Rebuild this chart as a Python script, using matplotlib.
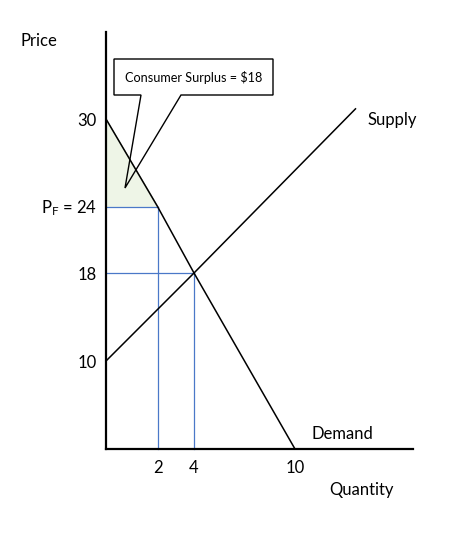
import numpy as np
import matplotlib
matplotlib.use("Agg")
import matplotlib.pyplot as plt
import matplotlib.transforms as mtransforms
from matplotlib.patches import Polygon

plt.rcParams['font.family'] = ['Lato', 'DejaVu Sans']

W, H = 450, 542

# data
demand_q = [0, 2, 4, 10]
demand_p = [30, 24, 18, 0]
supply_q = [0, 4, 13.6]
supply_p = [10, 18, 30.7]
floor_q, floor_p = 2, 24       # price floor point
eq_q, eq_p = 4, 18             # equilibrium
x_ticks = [2, 4, 10]
x_tick_labels = ['2', '4', '10']
y_ticks = [30, 24, 18, 10]
y_tick_labels = ['30', r'$\mathregular{P_F}$ = 24', '18', '10']
callout_text = 'Consumer Surplus = $18'

# the sketch is not drawn to scale: piecewise scales through the tick positions
q_knots = [-20, 0, 2, 4, 10, 40]
q_pix = [-408, 106, 157.5, 194, 295, 799]
p_knots = [-20, 0, 10, 18, 24, 30, 60]
p_pix = [625, 449, 361, 273, 206.5, 119, -316]
p_up = [H - v for v in p_pix]


def fx(v):
    return np.interp(v, q_knots, q_pix)


def ix(v):
    return np.interp(v, q_pix, q_knots)


def fy(v):
    return np.interp(v, p_knots, p_up)


def iy(v):
    return np.interp(v, p_up, p_knots)


fig = plt.figure(figsize=(W / 100, H / 100), dpi=100)
ax = fig.add_axes([0, 0, 1, 1])
ax.set_xscale('function', functions=(fx, ix))
ax.set_yscale('function', functions=(fy, iy))
ax.set_xlim(ix(0), ix(W))
ax.set_ylim(iy(0), iy(H))
ax.axis('off')

blue = '#4a78c8'
fs = 12

# consumer surplus area
ax.fill([0, 0, floor_q], [demand_p[0], floor_p, floor_p], facecolor='#eef5e7', zorder=1,
        edgecolor='#a9b4a0', linewidth=0.6)

# guide lines
ax.plot([0, floor_q], [floor_p, floor_p], color=blue, lw=0.9, zorder=2)
ax.plot([floor_q, floor_q], [0, floor_p], color=blue, lw=0.9, zorder=2)
ax.plot([0, eq_q], [eq_p, eq_p], color=blue, lw=0.9, zorder=2)
ax.plot([eq_q, eq_q], [0, eq_p], color=blue, lw=0.9, zorder=2)

# axes
ax.plot([0, 0], [0, 36], color='black', lw=1.6, zorder=3)
ax.plot([0, 17], [0, 0], color='black', lw=1.6, zorder=3)

# curves
ax.plot(demand_q, demand_p, color='black', lw=1.1, zorder=4)
ax.plot(supply_q, supply_p, color='black', lw=1.1, zorder=4)

# tick labels
for q, lab in zip(x_ticks, x_tick_labels):
    ax.annotate(lab, (q, 0), xytext=(0, -19), textcoords='offset pixels',
                ha='center', va='center', fontsize=fs)
for p, lab in zip(y_ticks, y_tick_labels):
    ax.annotate(lab, (0, p), xytext=(-9, -2), textcoords='offset pixels',
                ha='right', va='center', fontsize=fs)


def px(x, y):
    return x / W, 1 - y / H


fig.text(*px(21, 41), 'Price', ha='left', va='center', fontsize=fs)
fig.text(*px(361, 490), 'Quantity', ha='center', va='center', fontsize=fs)
fig.text(*px(342, 434), 'Demand', ha='center', va='center', fontsize=fs)
fig.text(*px(392, 120), 'Supply', ha='center', va='center', fontsize=fs)

# callout box with pointer (outline only, the shading shows through the wedge)
to_disp = mtransforms.Affine2D().scale(1, -1).translate(0, H)
shape = [(114, 59), (273, 59), (273, 95), (181, 95), (125, 188), (141, 95), (114, 95)]
ax.add_patch(Polygon(shape, closed=True, facecolor='none', edgecolor='black',
                     lw=1.0, transform=to_disp, zorder=5))
fig.text(*px(193.5, 78), callout_text, ha='center', va='center', fontsize=9.1, zorder=6)

fig.savefig('out.png', dpi=100)
